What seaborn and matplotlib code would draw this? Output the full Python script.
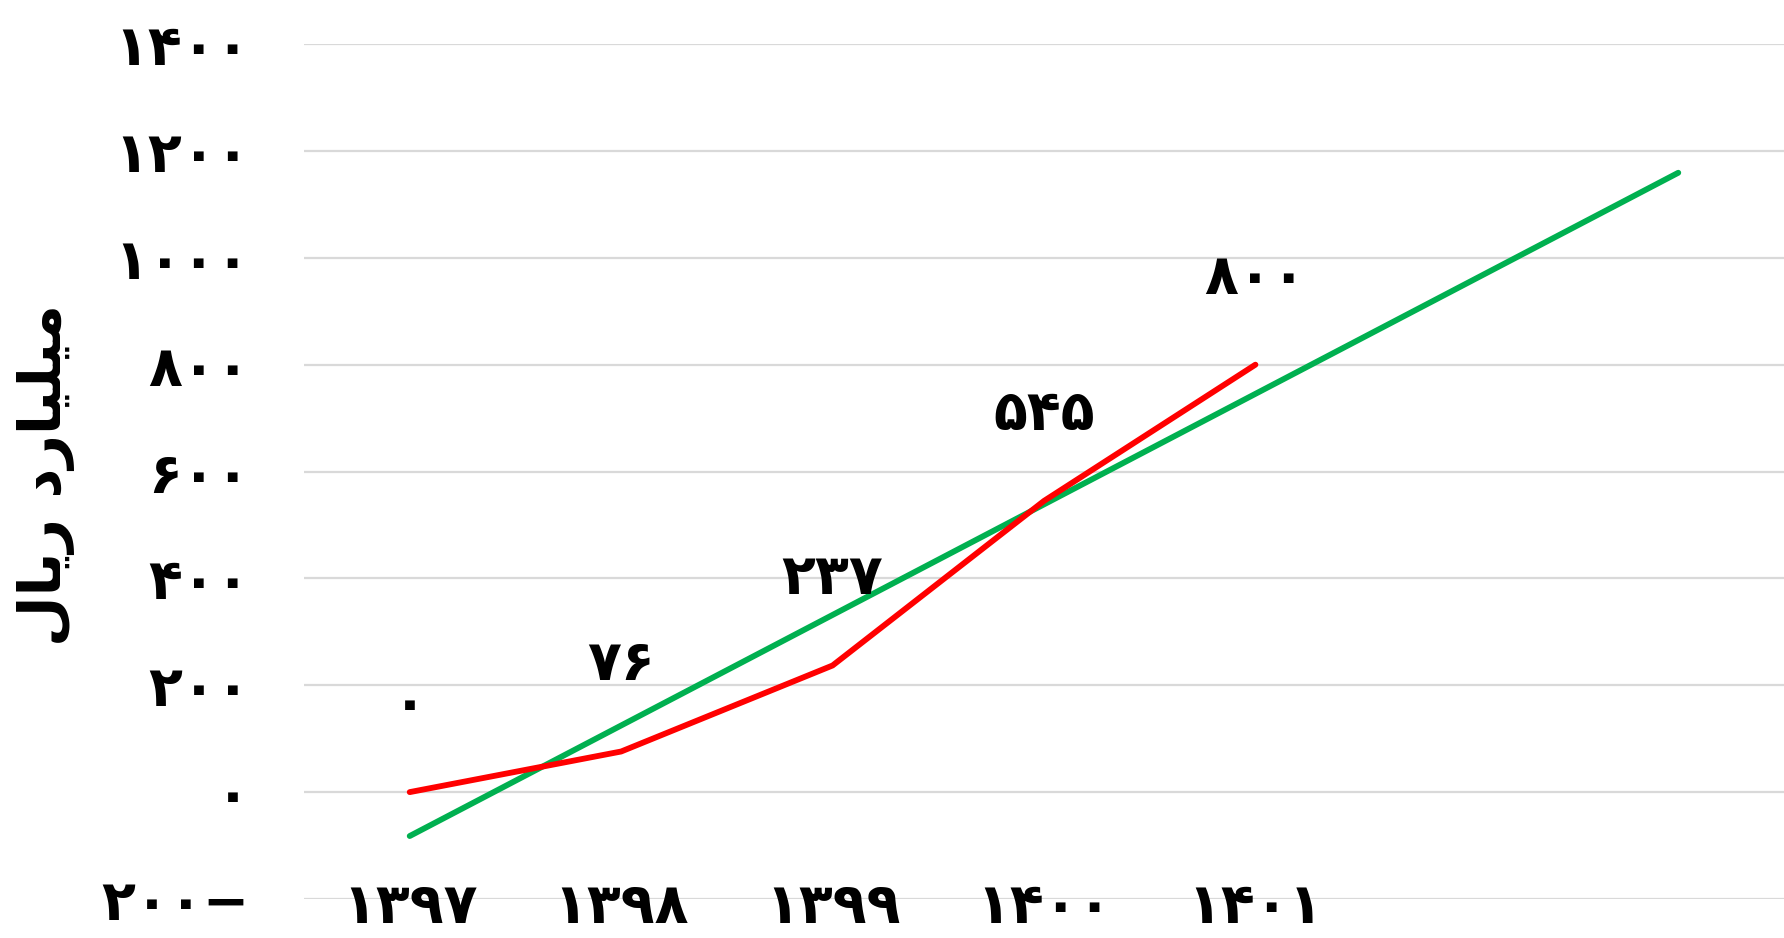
import numpy as np
import pandas as pd
import matplotlib
matplotlib.use("Agg")
import matplotlib.pyplot as plt
import seaborn as sns

# Persian (Solar Hijri) years and values in billion rials
years = ["۱۳۹۷", "۱۳۹۸", "۱۳۹۹", "۱۴۰۰", "۱۴۰۱"]
values = [0, 76, 237, 545, 800]
value_labels = ["۰", "۷۶", "۲۳۷", "۵۴۵", "۸۰۰"]
y_ticks = [-200, 0, 200, 400, 600, 800, 1000, 1200, 1400]
forecast_periods = 2

# y-axis title "میلیارد ریال", written with presentation forms in visual order
y_title = "\uFEDD\uFE8E\uFEF3\uFEAD \uFEA9\uFEAD\uFE8E\uFEF4\uFEE0\uFEF4\uFEE3"

PERSIAN_DIGITS = str.maketrans("0123456789", "۰۱۲۳۴۵۶۷۸۹")


def fa_number(v):
    s = str(abs(int(v))).translate(PERSIAN_DIGITS)
    return s + "\u2212" if v < 0 else s


sns.set_theme(style="white")
plt.rcParams["font.family"] = ["DejaVu Sans"]
plt.rcParams["font.weight"] = "bold"
plt.rcParams["text.color"] = "black"
plt.rcParams["xtick.color"] = "black"
plt.rcParams["ytick.color"] = "black"
plt.rcParams["axes.labelcolor"] = "black"

df = pd.DataFrame({"x": np.arange(len(years)), "value": values})

# Linear trend over the observed years, projected forward
coef = np.polyfit(df["x"], df["value"], 1)
trend_x = np.arange(len(years) + forecast_periods)
trend = pd.DataFrame({"x": trend_x, "value": np.polyval(coef, trend_x)})

fig = plt.figure(figsize=(17.84, 9.38), dpi=100)
ax = fig.add_axes([0.1704, 0.0416, 0.8296, 0.9114])

ax.set_ylim(-200, 1400)
ax.set_xlim(-0.5, 6.5)
for t in y_ticks:
    ax.axhline(t, color="#D9D9D9", lw=1.6, zorder=0)

sns.lineplot(data=df, x="x", y="value", color="#FF0000", lw=4.2, ax=ax,
             solid_capstyle="round", zorder=3)
sns.lineplot(data=trend, x="x", y="value", color="#00B050", lw=4.2, ax=ax,
             solid_capstyle="round", zorder=2)

for x, v, lab in zip(df["x"], df["value"], value_labels):
    ax.annotate(lab, (x, v), xytext=(0, 62), textcoords="offset points",
                ha="center", va="center", fontsize=40, fontweight="bold",
                color="black")

ax.set_yticks(y_ticks)
ax.set_yticklabels([fa_number(t) for t in y_ticks], fontsize=40,
                   fontweight="bold")
ax.set_xticks(range(len(years)))
ax.set_xticklabels(years, fontsize=40, fontweight="bold")
ax.tick_params(axis="y", length=0, pad=39)
ax.tick_params(axis="x", length=0, pad=-13)

ax.set_xlabel("")
ax.set_ylabel(y_title, fontsize=42, fontweight="bold")
ax.yaxis.set_label_coords(-0.155, 0.496)

for s in ax.spines.values():
    s.set_visible(False)

fig.savefig("out.png", dpi=100, facecolor="white")
